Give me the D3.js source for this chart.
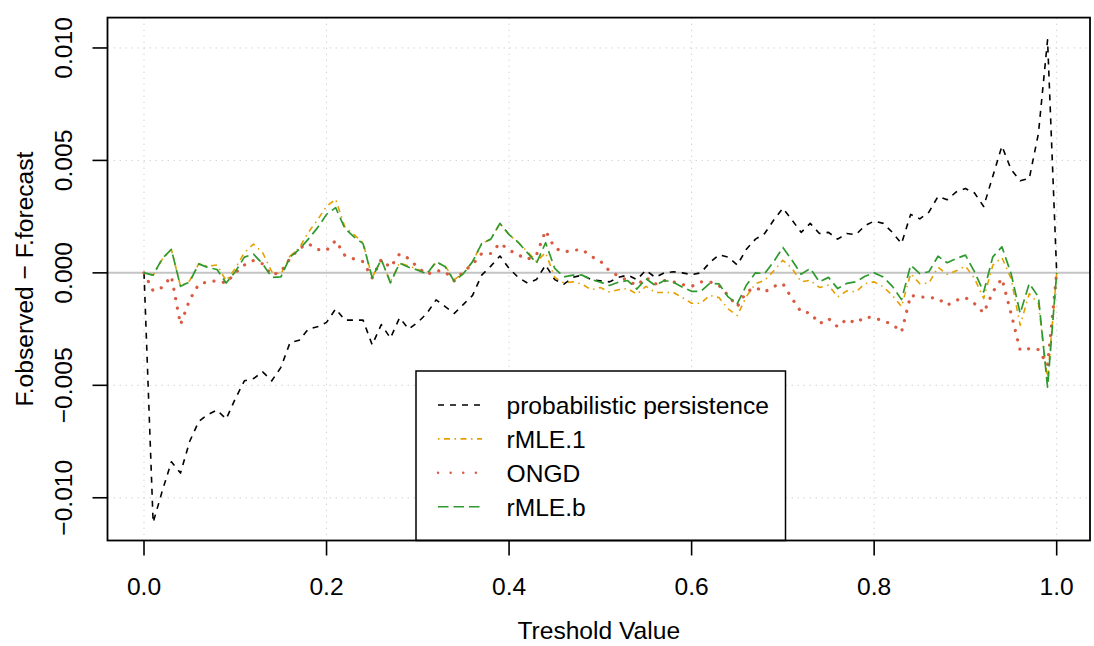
<!DOCTYPE html>
<html>
<head>
<meta charset="utf-8">
<script src="https://cdn.jsdelivr.net/npm/d3@7"></script>
<style>
  body { margin: 0; background: #fff; }
  text { font-family: "Liberation Sans", Arial, Helvetica, sans-serif; fill: #000; }
</style>
</head>
<body>
<script>
const width = 1094;
const height = 646;
const fontSize = 24.6;

const thresholds = [
  0.00, 0.01, 0.02, 0.03, 0.04, 0.05, 0.06, 0.07, 0.08, 0.09,
  0.10, 0.11, 0.12, 0.13, 0.14, 0.15, 0.16, 0.17, 0.18, 0.19,
  0.20, 0.21, 0.22, 0.23, 0.24, 0.25, 0.26, 0.27, 0.28, 0.29,
  0.30, 0.31, 0.32, 0.33, 0.34, 0.35, 0.36, 0.37, 0.38, 0.39,
  0.40, 0.41, 0.42, 0.43, 0.44, 0.45, 0.46, 0.47, 0.48, 0.49,
  0.50, 0.51, 0.52, 0.53, 0.54, 0.55, 0.56, 0.57, 0.58, 0.59,
  0.60, 0.61, 0.62, 0.63, 0.64, 0.65, 0.66, 0.67, 0.68, 0.69,
  0.70, 0.71, 0.72, 0.73, 0.74, 0.75, 0.76, 0.77, 0.78, 0.79,
  0.80, 0.81, 0.82, 0.83, 0.84, 0.85, 0.86, 0.87, 0.88, 0.89,
  0.90, 0.91, 0.92, 0.93, 0.94, 0.95, 0.96, 0.97, 0.98, 0.99, 1.00];

const persistence = [
  0, -0.0111, -0.0097, -0.0084, -0.0089, -0.0075, -0.0066, -0.0063, -0.0061, -0.0065,
  -0.0056, -0.0048, -0.0047, -0.0044, -0.0048, -0.0042, -0.0031, -0.0030, -0.0025, -0.0024,
  -0.0022, -0.0016, -0.0021, -0.0021, -0.0021, -0.0032, -0.0023, -0.0029, -0.0020, -0.0025,
  -0.0022, -0.0018, -0.0012, -0.0015, -0.0018, -0.0014, -0.0010, -0.0001, 0.0003, 0.00075,
  0.0002, -0.0002, -0.00045, -0.0003, 0.00035, -0.0003, -0.0005, -0.0002, -0.0001, -0.0003,
  -0.00035, -0.0004, -0.0002, -0.0001, -0.0003, 0.00012, -0.0002, 0, 0.00005, 0,
  -0.00008, 0, 0.00046, 0.0008, 0.0007, 0.00035, 0.00105, 0.0015, 0.00175, 0.00235,
  0.00287, 0.00235, 0.0018, 0.0022, 0.00175, 0.0018, 0.0015, 0.00175, 0.0017, 0.0021,
  0.0023, 0.0022, 0.0018, 0.0013, 0.0026, 0.0024, 0.0027, 0.0034, 0.00325, 0.0036,
  0.00375, 0.00355, 0.00295, 0.0043, 0.00564, 0.0046, 0.0041, 0.0042, 0.0062, 0.01036, 0];

const rmle1 = [
  0, -0.0001, 0.0006, 0.00104, -0.0006, -0.00035, 0.0004, 0.0003, 0.00035, -0.00035,
  0.0002, 0.0009, 0.00128, 0.0009, 0.00005, -0.00005, 0.00075, 0.0011, 0.0018, 0.00235,
  0.00296, 0.00327, 0.00205, 0.0017, 0.00135, -0.0002, 0.00056, -0.0004, 0.00045, 0.0003,
  0.00015, 0, 0.00045, 0.0003, -0.0003, 0, 0.0005, 0.0013, 0.0015, 0.0022,
  0.0017, 0.00135, 0.00095, 0.0005, 0.0009, -0.0002, -0.00045, -0.0004, -0.0005, -0.00075,
  -0.00065, -0.00085, -0.00075, -0.0007, -0.00095, -0.0006, -0.00087, -0.00087, -0.00087, -0.0011,
  -0.00135, -0.00135, -0.001, -0.0011, -0.0016, -0.0019, -0.00105, -0.00048, -0.00033, 0.00009,
  0.00056, 0.0002, -0.0004, -0.00033, -0.00065, -0.00055, -0.00107, -0.0008, -0.00085, -0.00048,
  -0.0004, -0.00062, -0.001, -0.0015, -0.00003, -0.00048, -0.00045, 0.00025, -0.00006, 0.00009,
  0.0003, -0.00025, -0.00114, 0.00034, 0.00068, -0.00025, -0.00233, -0.00092, -0.00137, -0.00478, 0];

const ongd = [
  0, -0.0008, -0.00065, -0.00015, -0.0023, -0.0012, -0.0005, -0.0004, -0.00035, -0.00045,
  0, 0.00035, 0.00055, 0.0004, -0.0001, 0.00005, 0.00064, 0.00108, 0.0013, 0.00104,
  0.001, 0.00144, 0.00078, 0.00062, 0.0005, -0.00022, 0.0006, 0.00024, 0.00084, 0.00064,
  0.00024, -0.00007, 0.0001, 0.00005, -0.00036, 0.00005, 0.00037, 0.00086, 0.00086, 0.00132,
  0.00102, 0.0008, 0.0006, 0.0008, 0.00188, 0.0011, 0.00093, 0.001, 0.00104, 0.00073,
  0.00053, 0.00008, -0.00014, -0.00034, -0.00056, -0.0002, -0.0005, -0.00034, -0.0004, -0.00052,
  -0.0006, -0.0004, -0.0004, -0.00056, -0.001, -0.0015, -0.00085, -0.00065, -0.00085, -0.0006,
  -0.00048, -0.00114, -0.00174, -0.00178, -0.00226, -0.00203, -0.0024, -0.00206, -0.00223, -0.00196,
  -0.002, -0.00214, -0.00229, -0.00263, -0.001, -0.00107, -0.0011, -0.00114, -0.00144, -0.00122,
  -0.0011, -0.00137, -0.00178, -0.00085, -0.00025, -0.0018, -0.00344, -0.00337, -0.00341, -0.0041, 0];

const rmleb = [
  0, -0.0001, 0.00064, 0.00104, -0.0006, -0.0004, 0.0004, 0.00024, 0.00015, -0.00045,
  0.00005, 0.0007, 0.00083, 0.0004, -0.0002, -0.00018, 0.0007, 0.00104, 0.0015, 0.002,
  0.0026, 0.0029, 0.00198, 0.0016, 0.0013, -0.00022, 0.0006, -0.00045, 0.00043, 0.00025,
  0.00012, -0.00005, 0.0005, 0.00027, -0.00037, -0.00003, 0.0005, 0.0013, 0.0015, 0.0022,
  0.0017, 0.00136, 0.0009, 0.00043, 0.00134, 0.0002, -0.00018, -0.0001, -0.0001, -0.0003,
  -0.00041, -0.00056, -0.00041, -0.00034, -0.00072, -0.00026, -0.00056, -0.00034, -0.00041, -0.00064,
  -0.00082, -0.00082, -0.00046, -0.00049, -0.00107, -0.00137, -0.00055, 0, -0.00003, 0.0005,
  0.00113, 0.00056, -0.00006, 0.0002, -0.0004, -0.0002, -0.0007, -0.00047, -0.0004, -0.00015,
  0, -0.00018, -0.0006, -0.00119, 0.00034, -0.00003, 0.00005, 0.00074, 0.00045, 0.00064,
  0.00079, 0.00004, -0.00085, 0.00071, 0.00116, -0.00003, -0.0018, -0.00047, -0.00107, -0.00508, 0];

const xTicks = [0, 0.2, 0.4, 0.6, 0.8, 1.0];
const yTicks = [-0.01, -0.005, 0, 0.005, 0.01];

const seriesNames = ["probabilistic persistence", "rMLE.1", "ONGD", "rMLE.b"];
const seriesValues = [persistence, rmle1, ongd, rmleb];
const seriesColors = ["#000000", "#E69F00", "#D95B43", "#2E9A2E"];
const seriesDash = ["6,6", "1.5,4.5,6,4.5", "0.1,9.5", "10.5,5"];
const seriesWidth = [1.6, 1.6, 3.2, 1.7];

const plotLeft = 107.5, plotRight = 1090, plotTop = 17.6, plotBottom = 540.5;

const xScale = d3.scaleLinear()
  .domain([-0.04, 1.0365])
  .range([plotLeft, plotRight]);

const yScale = d3.scaleLinear()
  .domain([-0.0119, 0.01135])
  .range([plotBottom, plotTop]);

const svg = d3.select("body")
  .append("svg")
  .attr("width", width)
  .attr("height", height);

// grid
svg.append("g")
  .selectAll("line")
  .data(xTicks)
  .enter()
  .append("line")
  .attr("x1", d => xScale(d)).attr("x2", d => xScale(d))
  .attr("y1", plotTop).attr("y2", plotBottom)
  .attr("stroke", "#d3d3d3").attr("stroke-width", 1)
  .attr("stroke-dasharray", "1.5,4.5");

svg.append("g")
  .selectAll("line")
  .data(yTicks)
  .enter()
  .append("line")
  .attr("x1", plotLeft).attr("x2", plotRight)
  .attr("y1", d => yScale(d)).attr("y2", d => yScale(d))
  .attr("stroke", "#d3d3d3").attr("stroke-width", 1)
  .attr("stroke-dasharray", "1.5,4.5");

// zero line
svg.append("line")
  .attr("x1", plotLeft).attr("x2", plotRight)
  .attr("y1", yScale(0)).attr("y2", yScale(0))
  .attr("stroke", "#c4c4c4").attr("stroke-width", 2);

const line = d3.line()
  .x((d, i) => xScale(thresholds[i]))
  .y(d => yScale(d));

const lines = svg.append("g")
  .selectAll("path")
  .data(seriesValues)
  .enter()
  .append("path")
  .attr("d", d => line(d))
  .attr("fill", "none")
  .attr("stroke", (d, i) => seriesColors[i])
  .attr("stroke-width", (d, i) => seriesWidth[i])
  .attr("stroke-dasharray", (d, i) => seriesDash[i])
  .attr("stroke-linecap", (d, i) => i === 2 ? "round" : "butt")
  .attr("stroke-linejoin", "round");

// legend
const legend = svg.append("g");
legend.append("rect")
  .attr("x", 416).attr("y", 371)
  .attr("width", 369.5).attr("height", plotBottom - 371)
  .attr("fill", "#fff").attr("stroke", "#000").attr("stroke-width", 1.5);

const rows = legend.selectAll("g")
  .data(seriesNames)
  .enter()
  .append("g")
  .attr("transform", (d, i) => "translate(0," + (405 + i * 33.9) + ")");

rows.append("line")
  .attr("x1", 438).attr("x2", 482)
  .attr("y1", 0).attr("y2", 0)
  .attr("stroke", (d, i) => seriesColors[i])
  .attr("stroke-width", (d, i) => i === 2 ? 2.4 : 1.6)
  .attr("stroke-dasharray", (d, i) => i === 2 ? "0.1,12.5" : seriesDash[i])
  .attr("stroke-linecap", (d, i) => i === 2 ? "round" : "butt");

rows.append("text")
  .attr("x", 506.5).attr("y", 8.8)
  .attr("font-size", fontSize)
  .text(d => d);

// plot box
svg.append("rect")
  .attr("x", plotLeft).attr("y", plotTop)
  .attr("width", plotRight - plotLeft).attr("height", plotBottom - plotTop)
  .attr("fill", "none").attr("stroke", "#000").attr("stroke-width", 1.8);

// x axis
const xAxis = svg.append("g");
xAxis.selectAll("line")
  .data(xTicks)
  .enter()
  .append("line")
  .attr("x1", d => xScale(d)).attr("x2", d => xScale(d))
  .attr("y1", plotBottom).attr("y2", plotBottom + 15)
  .attr("stroke", "#000").attr("stroke-width", 1.6);
xAxis.selectAll("text")
  .data(xTicks)
  .enter()
  .append("text")
  .attr("x", d => xScale(d)).attr("y", 595)
  .attr("text-anchor", "middle")
  .attr("font-size", fontSize)
  .text(d => d3.format(".1f")(d));

// y axis
const yAxis = svg.append("g");
yAxis.selectAll("line")
  .data(yTicks)
  .enter()
  .append("line")
  .attr("x1", plotLeft - 15).attr("x2", plotLeft)
  .attr("y1", d => yScale(d)).attr("y2", d => yScale(d))
  .attr("stroke", "#000").attr("stroke-width", 1.6);
yAxis.selectAll("text")
  .data(yTicks)
  .enter()
  .append("text")
  .attr("transform", d => "translate(72," + yScale(d) + ") rotate(-90)")
  .attr("text-anchor", "middle")
  .attr("font-size", fontSize)
  .text(d => d3.format(".3f")(d).replace("-", "\u2212"));

// titles
svg.append("text")
  .attr("x", (plotLeft + plotRight) / 2).attr("y", 639)
  .attr("text-anchor", "middle")
  .attr("font-size", fontSize)
  .text("Treshold Value");

svg.append("text")
  .attr("transform", "translate(33," + ((plotTop + plotBottom) / 2) + ") rotate(-90)")
  .attr("text-anchor", "middle")
  .attr("font-size", fontSize)
  .text("F.observed \u2212 F.forecast");
</script>
</body>
</html>
